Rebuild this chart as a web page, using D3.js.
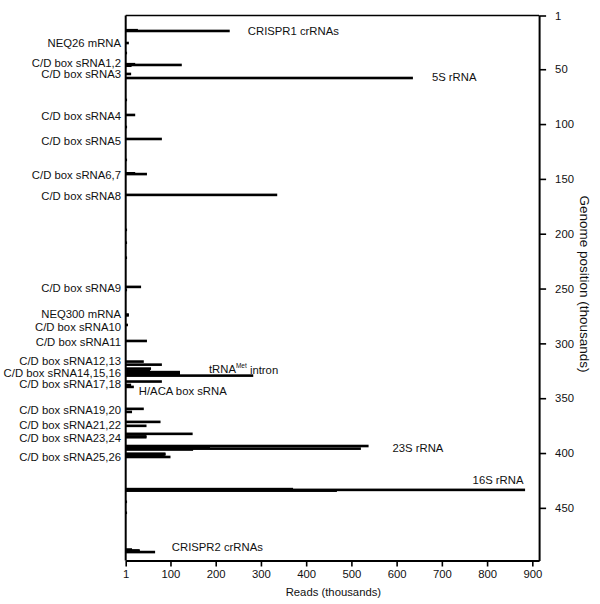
<!DOCTYPE html>
<html>
<head>
<meta charset="utf-8">
<script src="https://cdn.jsdelivr.net/npm/d3@7/dist/d3.min.js"></script>
<style>
  html, body { margin: 0; padding: 0; background: #fff; }
  svg { display: block; }
  text { font-family: "Liberation Sans", Arial, Helvetica, sans-serif; fill: #111; }
</style>
</head>
<body>
<svg id="chart" width="600" height="604"></svg>
<script>
// ---- Data (genome position in thousands, reads in thousands) ----
const barPositions = [
  14.4, 15.1,            // CRISPR1
  26.1,                  // NEQ26
  35.2,
  45.4, 46.1, 46.8,      // sRNA1,2
  54.3,                  // sRNA3
  58.0,                  // 5S rRNA
  78.0,
  91.7,                  // sRNA4
  102.7,
  113.6,                 // sRNA5
  132.7,
  144.9, 145.6,          // sRNA6,7
  164.6,                 // sRNA8
  196.5, 208.2, 221.9,
  248.5,                 // sRNA9
  251.3,
  273.7, 274.5,          // NEQ300
  283.2,                 // sRNA10
  297.8,                 // sRNA11
  316.6, 319.4,          // sRNA12,13
  323.0, 324.8, 326.2, 327.2, 328.2, 329.4, // sRNA14,15,16 + tRNA intron
  334.8, 337.9, 339.7,   // sRNA17,18 + H/ACA
  359.7, 362.5,          // sRNA19,20
  371.6, 375.2,          // sRNA21,22
  382.5, 384.8, 385.6,   // sRNA23,24
  393.6, 394.4, 395.2, 396.0, 396.8, // 23S rRNA
  400.6, 401.4, 402.2, 403.6, // sRNA25,26
  432.9, 433.6, 434.3,   // 16S rRNA
  444.5, 454.5,
  488.0, 488.8, 489.6, 490.3 // CRISPR2
];
const barReads = [
  28, 231,
  8,
  4,
  22, 125, 14,
  13,
  636,
  4,
  22,
  4,
  81,
  4,
  22, 48,
  336,
  4, 4, 4,
  35,
  4,
  8, 8,
  6,
  48,
  41, 81,
  57, 55, 121, 121, 121, 283,
  81, 13, 19,
  41, 15,
  78, 47,
  149, 47, 47,
  538, 187, 187, 521, 150,
  89, 89, 85, 100,
  371, 884, 468,
  4, 4,
  15, 32, 32, 66
];

// Left-side labels and the genome position (thousands) each points at
const leftLabels = [
  "NEQ26 mRNA", "C/D box sRNA1,2", "C/D box sRNA3", "C/D box sRNA4", "C/D box sRNA5",
  "C/D box sRNA6,7", "C/D box sRNA8", "C/D box sRNA9", "NEQ300 mRNA", "C/D box sRNA10",
  "C/D box sRNA11", "C/D box sRNA12,13", "C/D box sRNA14,15,16", "C/D box sRNA17,18",
  "C/D box sRNA19,20", "C/D box sRNA21,22", "C/D box sRNA23,24", "C/D box sRNA25,26"
];
const leftLabelPos = [
  26.3, 44.6, 54.3, 92.3, 115.1,
  146.1, 165.6, 249.2, 273.1, 285.3,
  298.4, 316.2, 326.6, 337.0,
  360.7, 374.4, 386.5, 403.8
];

// In-plot annotations: text, reads (x anchor), genome position (y anchor)
const noteLabels = ["CRISPR1 crRNAs", "5S rRNA", "H/ACA box sRNA", "23S rRNA", "16S rRNA", "CRISPR2 crRNAs"];
const noteReads  = [271, 678, 30, 591, 768, 103];
const notePos    = [15.1, 57.3, 343.6, 395.6, 424.5, 485.8];
const tRNANote = { reads: 185, pos: 323.5 };

const xTicks = [1, 100, 200, 300, 400, 500, 600, 700, 800, 900];
const yTicks = [1, 50, 100, 150, 200, 250, 300, 350, 400, 450];
const xTitle = "Reads (thousands)";
const yTitle = "Genome position (thousands)";

// ---- Chart ----
const svg = d3.select("#chart");
const x = d3.scaleLinear().domain([1, 915]).range([125.7, 539.1]);
const y = d3.scaleLinear().domain([1, 498]).range([15.5, 560.5]);

const FS = 11.3;
const barH = 2.6;

// bars
const bars = barPositions.map((p, i) => ({ pos: p, reads: barReads[i] }));
svg.append("g").selectAll("rect").data(bars).join("rect")
  .attr("x", x(1))
  .attr("y", d => y(d.pos) - barH / 2)
  .attr("width", d => Math.max(0.9, x(d.reads) - x(1)))
  .attr("height", barH)
  .attr("fill", "#000");

// frame: top and left lines
svg.append("line")
  .attr("x1", x(1)).attr("x2", x(915)).attr("y1", y(1)).attr("y2", y(1))
  .attr("stroke", "#000").attr("stroke-width", 1.6);
svg.append("line")
  .attr("x1", x(1)).attr("x2", x(1)).attr("y1", y(1)).attr("y2", y(498))
  .attr("stroke", "#000").attr("stroke-width", 2);

// bottom axis
const gx = svg.append("g")
  .attr("transform", `translate(0,${y(498)})`)
  .call(d3.axisBottom(x).tickValues(xTicks).tickFormat(d3.format("d")).tickSize(6).tickSizeOuter(0).tickPadding(3));
gx.select(".domain").attr("stroke-width", 2);
gx.selectAll(".tick line").attr("stroke-width", 1.6);
gx.selectAll("text").attr("font-size", FS).style("font-family", "Liberation Sans, Arial, sans-serif").attr("fill", "#111");

// right axis
const gy = svg.append("g")
  .attr("transform", `translate(${x(915)},0)`)
  .call(d3.axisRight(y).tickValues(yTicks).tickFormat(d3.format("d")).tickSize(7).tickSizeOuter(0).tickPadding(9));
gy.select(".domain").attr("stroke-width", 2);
gy.selectAll(".tick line").attr("stroke-width", 1.6);
gy.selectAll("text").attr("font-size", FS).style("font-family", "Liberation Sans, Arial, sans-serif").attr("fill", "#111");

// axis titles
svg.append("text")
  .attr("x", (x(1) + x(915)) / 2 + 1)
  .attr("y", 592)
  .attr("text-anchor", "middle")
  .attr("dy", "0.35em")
  .attr("font-size", FS)
  .text(xTitle);
svg.append("text")
  .attr("transform", `translate(585,284) rotate(90)`)
  .attr("text-anchor", "middle")
  .attr("dy", "0.35em")
  .attr("font-size", 13.5)
  .text(yTitle);

// left labels
svg.append("g").selectAll("text").data(leftLabels).join("text")
  .attr("x", 121)
  .attr("y", (d, i) => y(leftLabelPos[i]))
  .attr("dy", "0.35em")
  .attr("text-anchor", "end")
  .attr("font-size", FS)
  .text(d => d);

// in-plot notes
svg.append("g").selectAll("text").data(noteLabels).join("text")
  .attr("x", (d, i) => x(noteReads[i]))
  .attr("y", (d, i) => y(notePos[i]))
  .attr("dy", "0.35em")
  .attr("font-size", FS)
  .text(d => d);

const t = svg.append("text")
  .attr("x", x(tRNANote.reads))
  .attr("y", y(tRNANote.pos))
  .attr("dy", "0.35em")
  .attr("font-size", FS);
t.append("tspan").text("tRNA");
t.append("tspan").attr("font-size", 6.5).attr("dy", "-0.75em").text("Met");
t.append("tspan").attr("dy", "0.47em").text(" intron");
</script>
</body>
</html>
